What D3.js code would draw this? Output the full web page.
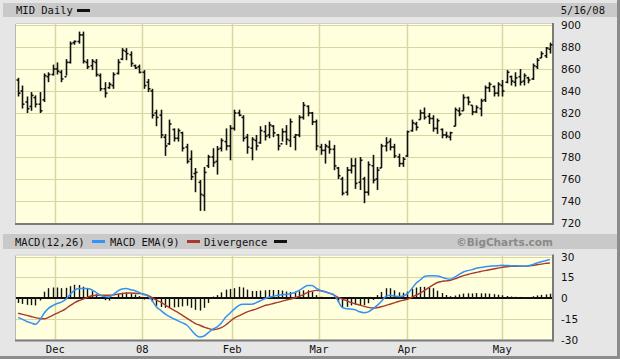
<!DOCTYPE html>
<html>
<head>
<meta charset="utf-8">
<script src="https://cdn.jsdelivr.net/npm/d3@7/dist/d3.min.js"></script>
<style>
  body { margin: 0; background: #e6e6e6; }
  svg { display: block; }
</style>
</head>
<body>
<div id="chart"></div>
<script>
// Daily OHLC for MID, 11/19/07 .. 5/16/08 (one entry per trading day)
const opens = [850,840,830,826,834,828,832,853,855,860,857,853,866,884,885,891,866,863,866,854,
  842,843,845,856,869,876,873,863,862,857,848,840,820,818,798,792,805,797,802,789,
  778,765,757,745,772,780,776,788,794,790,806,820,816,798,788,795,793,803,800,808,
  800,792,803,795,798,800,816,826,820,812,789,786,789,787,770,760,748,768,772,757,
  760,748,772,760,770,790,794,789,780,774,781,804,810,814,820,817,815,806,805,800,
  798,808,822,822,834,827,821,824,832,843,844,838,845,848,853,848,853,849,852,851,
  862,870,872,878];
const highs = [852,845,835,839,836,839,856,857,864,866,859,869,885,886,894,894,869,869,869,856,
  848,848,857,869,879,879,876,864,864,859,851,842,823,823,801,814,806,806,803,792,
  786,770,759,771,782,788,790,797,806,809,823,823,818,801,798,800,808,809,812,809,
  801,806,809,815,801,818,830,827,821,814,792,792,795,791,771,762,771,779,779,780,
  762,776,782,771,792,798,797,792,783,780,804,814,812,823,825,820,818,815,806,803,
  803,825,825,837,835,827,827,833,845,848,845,848,850,859,854,857,860,856,853,865,
  870,876,880,884];
const lows = [835,824,820,822,825,820,830,848,854,855,848,854,865,882,883,865,860,859,853,840,
  834,842,842,855,868,868,862,860,856,842,839,815,808,797,781,791,794,794,785,774,
  759,748,731,731,770,771,764,785,786,777,804,817,794,783,777,786,792,795,797,798,
  786,794,791,789,786,798,814,817,809,786,782,774,783,768,760,745,745,765,751,750,
  738,745,756,750,770,785,786,779,771,771,780,803,804,814,814,810,803,801,797,797,
  795,808,817,822,827,818,820,817,830,839,835,835,835,847,845,844,845,845,847,850,
  860,870,870,874];
const closes = [838,828,824,836,828,822,854,855,860,858,851,866,883,885,891,867,862,867,855,842,
  838,846,855,866,877,874,865,861,857,845,842,818,816,800,790,810,797,804,788,776,
  762,766,746,766,780,775,787,795,790,806,820,818,797,789,796,790,804,799,809,802,
  790,803,796,812,800,816,827,820,812,790,786,790,787,772,763,747,768,772,756,777,
  748,773,759,768,790,793,789,781,774,778,803,811,807,820,816,815,806,813,800,799,
  802,823,819,834,830,821,825,831,843,846,838,846,840,857,849,852,848,854,850,863,
  868,874,879,882];

// MACD(12,26), its EMA(9) and the divergence histogram, one value per trading day
const macd = [-14,-15.5,-17,-18,-19,-16,-11,-7.5,-5.5,-4,-3,-1,2.5,5.5,6.8,6.8,6.8,6,4,2,
  1,0.7,2.5,5,6.5,6.8,6,5.3,4,2.5,1.5,-2,-6.5,-9,-11.5,-13.5,-15,-16.5,-18,-19.5,
  -23,-26.5,-28.2,-27.5,-25,-22.5,-21,-18,-14,-11,-8,-5.5,-4.5,-4.5,-4.5,-3.5,-2,-0.5,0.5,1.2,
  2,2.4,2.6,3,4,5.5,7.5,9,9,7,5.5,4.5,3.5,2.5,-2,-7,-7.8,-8,-8.5,-10,
  -10.6,-10,-8,-5.5,-2.5,1,2,1.5,1,1.5,3,6.5,10.5,13,15.5,16,16,15.9,15,14,
  13.5,15,17,18.8,19.8,20.5,21.5,22,22.6,23,23.2,23.4,23.6,23.5,23.4,23.3,23.2,23,23.2,24.2,
  25.3,26.2,27,27.8];
const signal = [-11,-11.8,-12.6,-13.4,-14.2,-14.8,-15,-14,-12.5,-11,-9.5,-7.8,-5.5,-3.5,-2,-0.8,0.5,1.6,2,2,
  2,2,2.3,2.8,3.2,3.6,3.6,3.4,3.2,3,1.8,0.3,-1.5,-3,-5,-7,-8.8,-10.5,-12.5,-14.5,
  -16.5,-18.5,-19.7,-21,-22,-22.9,-22.5,-21.5,-19.5,-17,-14.5,-13,-11.5,-10,-9,-8,-6.8,-5.5,-4.8,-4,
  -3.2,-2.4,-1.5,-0.7,0.2,1.2,2.5,4,5,5.5,5.2,4.5,3.5,2.2,0.5,-0.8,-2,-3.2,-4.2,-5.2,
  -6,-6.8,-7.2,-7,-6.3,-5.5,-4.5,-3.5,-2.5,-1.7,-1,0.5,2,3.5,5.5,7.5,9.5,11.2,12,12.4,
  12.8,13.8,15,16.2,17,17.8,18.5,19.2,19.8,20.4,21,21.6,22.2,22.6,22.9,23,23,23,23.1,23.5,
  24,24.5,25,25.3];
const divergence = [-3,-3.7,-4.4,-4.6,-4.8,-1.2,4,6.5,7,7,6.5,6.8,8,9,8.8,7.6,6.3,4.4,2,0,
  -1,-1.3,0.2,2.2,3.3,3.2,2.4,1.9,0.8,-0.5,-0.3,-2.3,-5,-6,-6.5,-6.5,-6.2,-6,-5.5,-5,
  -6.5,-8,-8.5,-6.5,-3,0.4,1.5,3.5,5.5,6,6.5,7.5,7,5.5,4.5,4.5,4.8,5,5.3,5.2,
  5.2,4.8,4.1,3.7,3.8,4.3,5,5,4,1.5,0.3,0,0,0.3,-2.5,-6.2,-5.8,-4.8,-4.3,-4.8,
  -4.6,-3.2,-0.8,1.5,3.8,6.5,6.5,5,3.5,3.2,4,6,7,7.5,7.5,7,6.5,4.7,3,1.6,
  0.7,1.2,2,2.6,2.8,2.7,3,2.8,2.8,2.6,2.2,1.8,1.4,0.9,0.5,0.3,0.2,0,0.1,0.7,
  1.3,1.7,2,2.5];

// Month starts, as trading-day positions
const monthLabels = ['Dec', '08', 'Feb', 'Mar', 'Apr', 'May'];
const monthIdx = [8.6, 28.7, 49.5, 69.6, 90, 112];

const priceTicks = [720, 740, 760, 780, 800, 820, 840, 860, 880, 900];
const macdTicks = [-30, -15, 0, 15, 30];

const W = 620, H = 359;
const left = 16, right = 552;
const priceTop = 25, priceBottom = 223;
const macdTop = 256.5, macdBottom = 339.5;

const svg = d3.select('#chart').append('svg')
  .attr('width', W).attr('height', H)
  .attr('viewBox', `0 0 ${W} ${H}`);

// frame and header bands
svg.append('rect').attr('width', W).attr('height', H).attr('fill', '#e6e6e6');
svg.append('rect').attr('x', W - 3).attr('y', 0).attr('width', 3).attr('height', H).attr('fill', '#8c8c8c');
svg.append('rect').attr('x', 0).attr('y', H - 3).attr('width', W).attr('height', 3).attr('fill', '#8c8c8c');
svg.append('rect').attr('x', 3).attr('y', 3).attr('width', W - 6).attr('height', 14).attr('fill', '#c9c9c9');
svg.append('rect').attr('x', 3).attr('y', 234).attr('width', W - 6).attr('height', 15).attr('fill', '#c9c9c9');

const n = closes.length;
const x = d3.scaleLinear().domain([-0.5, n - 0.5]).range([left, right]);
const yP = d3.scaleLinear().domain([720, 900]).range([priceBottom, priceTop]);
const yM = d3.scaleLinear().domain([-30, 30]).range([macdBottom, macdTop]);

function panel(y0, y1, yScale, ticks) {
  const g = svg.append('g');
  g.append('rect').attr('x', left).attr('y', y0 - 1).attr('width', right - left).attr('height', y1 - y0 + 1)
    .attr('fill', '#ffffde');
  g.selectAll('line.h').data(ticks).join('line')
    .attr('x1', left).attr('x2', right)
    .attr('y1', d => Math.round(yScale(d)) + 0.5).attr('y2', d => Math.round(yScale(d)) + 0.5)
    .attr('stroke', '#d8d6a2').attr('stroke-width', 1.2);
  g.selectAll('line.v').data(monthIdx).join('line')
    .attr('x1', d => Math.round(x(d)) + 0.5).attr('x2', d => Math.round(x(d)) + 0.5)
    .attr('y1', y0 - 1).attr('y2', y1)
    .attr('stroke', '#d8d6a2').attr('stroke-width', 1.5);
  // bevelled border
  g.append('line').attr('x1', left - 0.5).attr('x2', left - 0.5).attr('y1', y0 - 1).attr('y2', y1 + 1)
    .attr('stroke', '#b8b8b8');
  g.append('line').attr('x1', left).attr('x2', right).attr('y1', y0 - 1.5).attr('y2', y0 - 1.5)
    .attr('stroke', '#d0d0d0');
  g.append('line').attr('x1', right + 1).attr('x2', right + 1).attr('y1', y0 - 2).attr('y2', y1 + 2)
    .attr('stroke', '#7a7a7a').attr('stroke-width', 2);
  g.append('line').attr('x1', left - 1).attr('x2', right + 2).attr('y1', y1 + 1).attr('y2', y1 + 1)
    .attr('stroke', '#7a7a7a').attr('stroke-width', 2);
  return g;
}

// ---- price panel ----
const pg = panel(priceTop, priceBottom, yP, priceTicks);
const bars = pg.append('g').attr('stroke', '#111').attr('stroke-width', 1.6);
d3.range(n).forEach(i => {
  const cx = Math.round(x(i)) + 0.5;
  bars.append('line').attr('x1', cx).attr('x2', cx).attr('y1', yP(highs[i])).attr('y2', yP(lows[i]));
  bars.append('line').attr('x1', cx - 2).attr('x2', cx).attr('y1', yP(opens[i])).attr('y2', yP(opens[i]));
  bars.append('line').attr('x1', cx).attr('x2', cx + 2).attr('y1', yP(closes[i])).attr('y2', yP(closes[i]));
});

svg.append('g').selectAll('text').data(priceTicks).join('text')
  .attr('x', 561).attr('y', d => yP(d) + 4)
  .attr('font-family', 'DejaVu Sans, Verdana, sans-serif').attr('font-size', 10.5)
  .attr('fill', '#111').text(d => d);

// ---- MACD panel ----
const mg = panel(macdTop, macdBottom, yM, macdTicks.filter(d => d !== 0));
mg.append('g').selectAll('line').data(divergence).join('line')
  .attr('x1', (d, i) => Math.round(x(i)) + 0.5).attr('x2', (d, i) => Math.round(x(i)) + 0.5)
  .attr('y1', yM(0)).attr('y2', d => yM(d) + (d >= 0 ? -0.8 : 0.8))
  .attr('stroke', '#111').attr('stroke-width', 1.4);
mg.append('line').attr('x1', left).attr('x2', right).attr('y1', yM(0)).attr('y2', yM(0))
  .attr('stroke', '#111').attr('stroke-width', 1.8);

const line = d3.line().x((d, i) => x(i)).y(d => yM(d)).curve(d3.curveMonotoneX);
mg.append('path').datum(signal).attr('d', line)
  .attr('fill', 'none').attr('stroke', '#a83a2c').attr('stroke-width', 1.4);
mg.append('path').datum(macd).attr('d', line)
  .attr('fill', 'none').attr('stroke', '#3592f5').attr('stroke-width', 1.5);

svg.append('g').selectAll('text').data(macdTicks).join('text')
  .attr('x', 561).attr('y', d => yM(d) + 4)
  .attr('font-family', 'DejaVu Sans, Verdana, sans-serif').attr('font-size', 10.5)
  .attr('fill', '#111').text(d => d);

// month labels
svg.append('g').selectAll('text').data(monthLabels).join('text')
  .attr('x', (d, i) => x(monthIdx[i])).attr('y', 353)
  .attr('text-anchor', 'middle')
  .attr('font-family', 'DejaVu Sans Mono, monospace').attr('font-size', 10.5)
  .attr('fill', '#111').text(d => d);

// header texts and legend swatches
const mono = 'DejaVu Sans Mono, monospace';
svg.append('text').attr('x', 16).attr('y', 14).attr('font-family', mono).attr('font-size', 10.5)
  .attr('fill', '#111').text('MID Daily');
svg.append('rect').attr('x', 77).attr('y', 9).attr('width', 13).attr('height', 3).attr('fill', '#111');
svg.append('text').attr('x', 605).attr('y', 14).attr('text-anchor', 'end').attr('font-family', mono)
  .attr('font-size', 10.5).attr('fill', '#111').text('5/16/08');

const legend = [
  { label: 'MACD(12,26)', x: 15, sw: 92, color: '#3592f5' },
  { label: 'MACD EMA(9)', x: 110, sw: 187, color: '#a83a2c' },
  { label: 'Divergence', x: 204, sw: 274, color: '#111' },
];
legend.forEach(d => {
  svg.append('text').attr('x', d.x).attr('y', 245.5).attr('font-family', mono).attr('font-size', 10.5)
    .attr('fill', '#111').text(d.label);
  svg.append('rect').attr('x', d.sw).attr('y', 240).attr('width', 13).attr('height', 3).attr('fill', d.color);
});
svg.append('text').attr('x', 553).attr('y', 246).attr('text-anchor', 'end')
  .attr('font-family', 'DejaVu Sans, Verdana, sans-serif').attr('font-weight', 'bold').attr('font-size', 10.5)
  .attr('fill', '#8a8a8a').text('\u00A9BigCharts.com');
</script>
</body>
</html>
